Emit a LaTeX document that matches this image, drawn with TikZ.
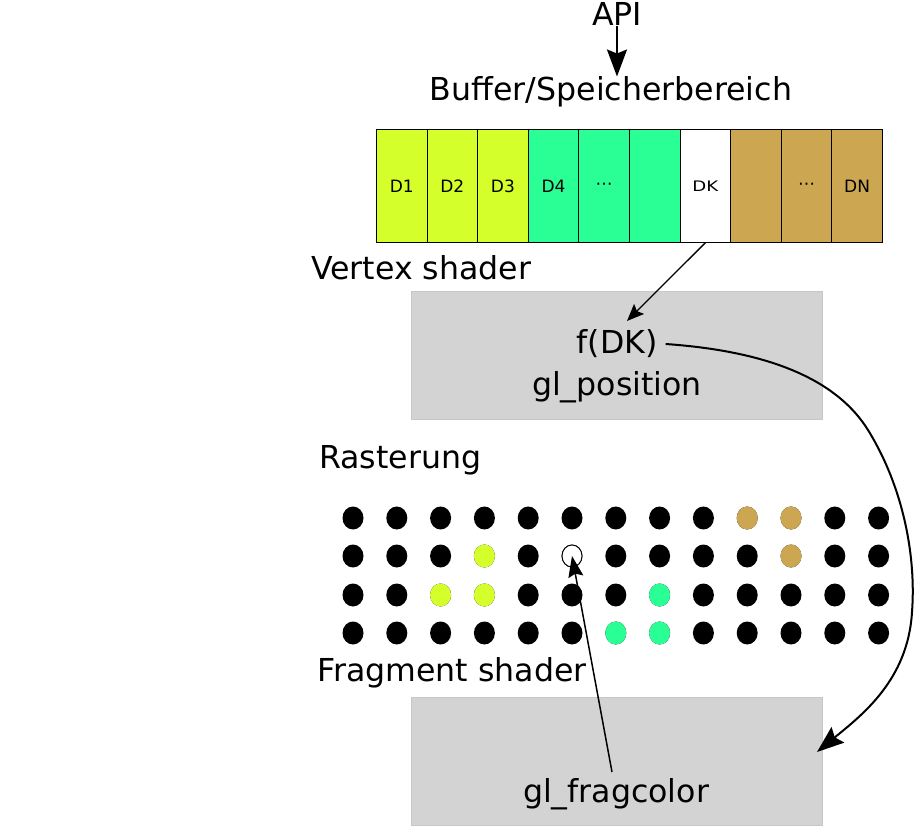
\documentclass[tikz,border=0pt]{standalone}
\usepackage{fontspec}
\setmainfont{DejaVu Sans}
\newfontfamily\wideface[FakeStretch=1.25]{DejaVu Sans}
\usetikzlibrary{arrows.meta,shapes.geometric}
\definecolor{cyel}{HTML}{D4FF2A}
\definecolor{cgrn}{HTML}{2AFF95}
\definecolor{ctan}{HTML}{CDA652}
\definecolor{cbox}{HTML}{D3D3D3}
\definecolor{cboxline}{HTML}{C2CAC2}
\begin{document}
\begin{tikzpicture}[x=1pt,y=-1pt,
  big/.style={font=\fontsize{31.6}{36}\selectfont, inner sep=0pt},
  cell/.style={draw=black, line width=0.8pt, minimum width=50.6pt, minimum height=113pt, inner sep=0pt, anchor=north west, font=\fontsize{17}{20}\selectfont},
  gbox/.style={fill=cbox, draw=cboxline, line width=0.8pt, minimum width=411pt, minimum height=128pt, anchor=north west, inner sep=0pt},
  dot/.style={ellipse, fill=black, minimum width=21pt, minimum height=23pt, inner sep=0pt},
  arr/.style={line width=2pt, -{Stealth[length=27pt,width=20pt,inset=4pt]}},
  arrs/.style={line width=1.3pt, -{Stealth[length=17pt,width=14pt,inset=3pt]}},
  arrm/.style={line width=1.5pt, -{Stealth[length=21pt,width=15pt,inset=3pt]}}
]
\useasboundingbox (0,0) rectangle (914,826);

% labels
\node[big] (api) at (617,14) {API};
\node[big] (buf) at (611,92) {Buffer/Speicherbereich};

% buffer cells
\node[cell, fill=cyel] (c1) at (376,129) {D1};
\node[cell, fill=cyel] (c2) at (426.6,129) {D2};
\node[cell, fill=cyel] (c3) at (477.2,129) {D3};
\node[cell, fill=cgrn] (c4) at (527.8,129) {D4};
\node[cell, fill=cgrn] (c5) at (578.4,129) {⋯};
\node[cell, fill=cgrn] (c6) at (629.0,129) {};
\node[cell, fill=white, font=\wideface\fontsize{14.5}{17}\selectfont] (c7) at (679.6,129) {DK};
\node[cell, fill=ctan] (c8) at (730.2,129) {};
\node[cell, fill=ctan] (c9) at (780.8,129) {⋯};
\node[cell, fill=ctan] (c10) at (831.4,129) {DN};

% stage labels
\node[big, anchor=west] (vs) at (311,268) {Vertex shader};
\node[gbox] (vbox) at (411,291) {};
\node[big] (fdk) at (617,344) {f(DK)};
\node[big] (glpos) at (617,387) {gl\_position};

\node[big, anchor=west] (rast) at (319,460) {Rasterung};

\node[big, anchor=west] (fs) at (317,673) {Fragment shader};
\node[gbox] (fbox) at (411,697) {};
\node[big] (glfrag) at (616,794) {gl\_fragcolor};

% dots
\foreach \r/\yy in {1/518,2/556,3/595,4/633}{
  \foreach \c in {1,...,13}{
    \node[dot] (d-\r-\c) at ({353+43.8*(\c-1)},\yy) {};
  }
}
\node[dot, fill=ctan] at (d-1-10) {};
\node[dot, fill=ctan] at (d-1-11) {};
\node[dot, fill=cyel] at (d-2-4) {};
\node[dot, fill=white, draw=black, line width=0.9pt, minimum width=20pt, minimum height=22pt] (target) at (d-2-6) {};
\node[dot, fill=ctan] at (d-2-11) {};
\node[dot, fill=cyel] at (d-3-3) {};
\node[dot, fill=cyel] at (d-3-4) {};
\node[dot, fill=cgrn] at (d-3-8) {};
\node[dot, fill=cgrn] at (d-4-7) {};
\node[dot, fill=cgrn] at (d-4-8) {};

% connectors
\draw[arr] (api.south) -- (api.south |- buf.north);
\coordinate (fdkin) at (627,321);
\draw[arrs] (c7.south) -- (fdkin);
\coordinate (fsend) at (817,752);
\draw[arr] ([xshift=8pt]fdk.east) .. controls (780,352) and (840,385) .. (868,430)
  .. controls (905,490) and (916,560) .. (912,612)
  .. controls (908,680) and (862,715) .. (fsend);
\coordinate (fcstart) at (612,772);
\draw[arrm] (fcstart) -- (target.center);
\end{tikzpicture}
\end{document}
